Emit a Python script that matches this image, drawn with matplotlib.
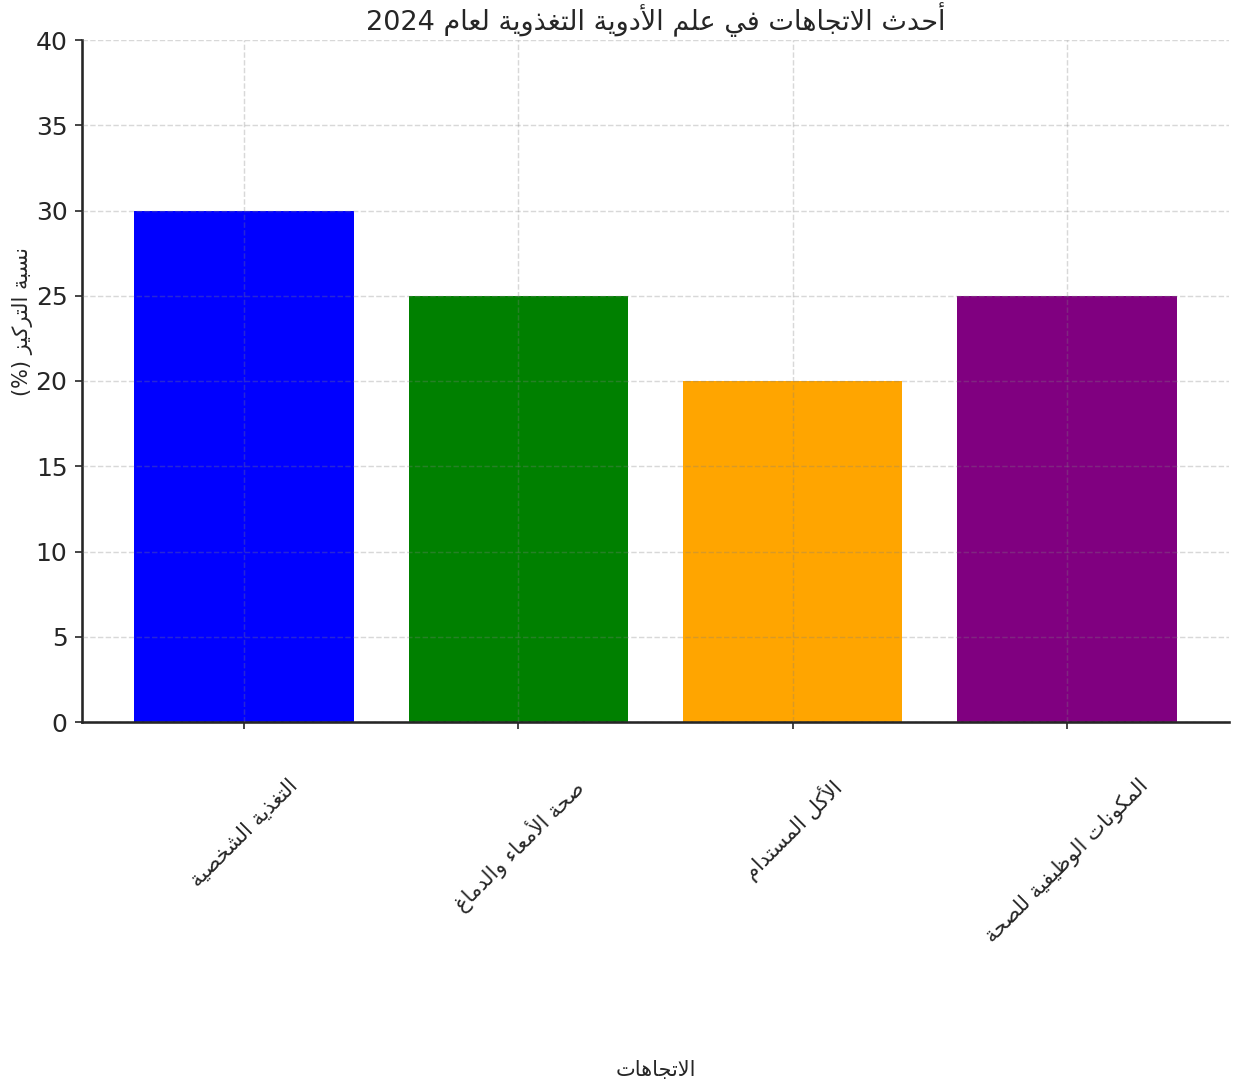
import re
import matplotlib
matplotlib.use("Agg")
from matplotlib import pyplot as plt

# data
categories = ["التغذية الشخصية", "صحة الأمعاء والدماغ", "الأكل المستدام", "المكونات الوظيفية للصحة"]
values = [30, 25, 20, 25]
colors = ["blue", "green", "orange", "purple"]
title = "أحدث الاتجاهات في علم الأدوية التغذوية لعام 2024"
xlabel = "الاتجاهات"
ylabel = "نسبة التركيز (%)"


# minimal arabic shaping (presentation forms) + visual order
letters = "ءآأؤإئابةتثجحخدذرزسشصضطظعغفقكلمنهوىي"
dual = set("ئبتثجحخسشصضطظعغفقكلمنهي")
forms = {}
code = 0xFE80
for ch in letters:
    n = 1 if ch == "ء" else (4 if ch in dual else 2)
    forms[ch] = [chr(code + i) for i in range(n)]
    code += n
lamalef = {"آ": ["\uFEF5", "\uFEF6"], "أ": ["\uFEF7", "\uFEF8"],
           "إ": ["\uFEF9", "\uFEFA"], "ا": ["\uFEFB", "\uFEFC"]}


def shape(text):
    # merge lam + alef into ligature tokens
    toks = []
    i = 0
    while i < len(text):
        if text[i] == "ل" and i + 1 < len(text) and text[i + 1] in lamalef:
            toks.append(("LA", text[i + 1]))
            i += 2
        else:
            toks.append((text[i], None))
            i += 1
    out = []
    for k, (ch, extra) in enumerate(toks):
        prev = toks[k - 1][0] if k > 0 else None
        nxt = toks[k + 1][0] if k + 1 < len(toks) else None
        joins_prev = prev is not None and (prev in dual)
        if ch == "LA":
            out.append(lamalef[extra][1 if joins_prev else 0])
            continue
        if ch not in forms:
            out.append(ch)
            continue
        f = forms[ch]
        joins_next = ch in dual and nxt is not None and (nxt in forms or nxt == "LA")
        if len(f) == 1:
            out.append(f[0])
        elif joins_prev and joins_next:
            out.append(f[3])
        elif joins_next:
            out.append(f[2])
        elif joins_prev:
            out.append(f[1])
        else:
            out.append(f[0])
    runs = re.findall(r"[0-9]+|.", "".join(out))
    mirror = {"(": ")", ")": "("}
    return "".join(mirror.get(r, r) for r in reversed(runs))


plt.rcParams["font.family"] = "DejaVu Sans"
dark = "#262626"

fig = plt.figure(figsize=(1233 / 150, 1086 / 150), dpi=150)
ax = fig.add_axes([82 / 1233, 1 - 722 / 1086, (1229 - 82) / 1233, (722 - 40) / 1086])

x = range(len(categories))
ax.bar(x, values, color=colors, width=0.8)
ax.set_ylim(0, 40)
ax.set_xticks(list(x))
ax.set_xticklabels([shape(c) for c in categories], rotation=45, ha="center", fontsize=10, color=dark)
ax.tick_params(axis="x", pad=22, colors=dark)
ax.tick_params(axis="y", labelsize=12, colors=dark)
ax.set_title(shape(title), fontsize=13, color=dark, pad=5)
ax.set_xlabel(shape(xlabel), fontsize=10, color=dark)
ax.set_ylabel(shape(ylabel), fontsize=10, color=dark)
ax.xaxis.set_label_coords(0.5, -0.496)
ax.yaxis.set_label_coords(-0.043, 0.587)

ax.set_axisbelow(False)
ax.grid(True, linestyle="--", color="gray", alpha=0.3, linewidth=0.7)
ax.spines["top"].set_visible(False)
ax.spines["right"].set_visible(False)
ax.spines["left"].set_linewidth(1.25)
ax.spines["bottom"].set_linewidth(1.25)
ax.spines["left"].set_color(dark)
ax.spines["bottom"].set_color(dark)

fig.savefig("out.png", dpi=150)
